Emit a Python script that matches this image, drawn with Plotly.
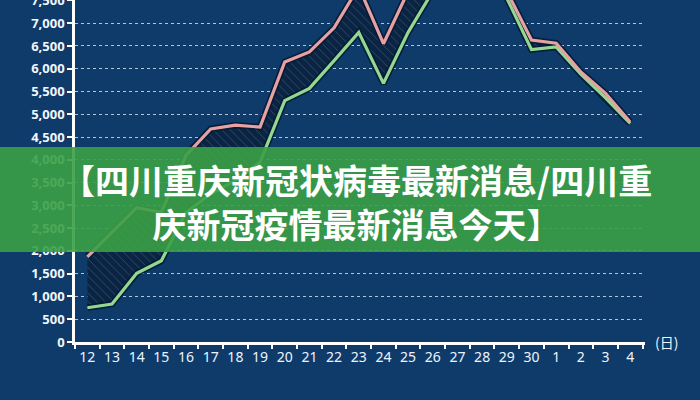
import plotly.graph_objects as go

days = ["12", "13", "14", "15", "16", "17", "18", "19", "20", "21", "22", "23",
        "24", "25", "26", "27", "28", "29", "30", "1", "2", "3", "4"]
upper = [1870, 2400, 2950, 2850, 4100, 4680, 4760, 4720, 6150, 6370, 6900, 7800,
         6550, 7700, 8100, 8300, 8200, 7700, 6630, 6560, 5930, 5460, 4830]
lower = [753, 834, 1507, 1784, 2850, 3250, 3550, 3950, 5300, 5570, 6180, 6800,
         5680, 6800, 7700, 7900, 7800, 7550, 6420, 6480, 5880, 5360, 4800]
y_ticks = [0, 500, 1000, 1500, 2000, 2500, 3000, 3500, 4000, 4500, 5000, 5500,
           6000, 6500, 7000, 7500]
title_text = "【四川重庆新冠状病毒最新消息/四川重<br>庆新冠疫情最新消息今天】"
unit_text = "(日)"

BG = "#0f3b6b"
PINK = "#e6a2a2"
GREEN = "#92d890"

fig = go.Figure()
# hatched band between the two series
fig.add_trace(go.Scatter(x=days, y=lower, mode="lines", line=dict(width=0, color=GREEN),
                         hoverinfo="skip", showlegend=False))
fig.add_trace(go.Scatter(x=days, y=upper, mode="lines", line=dict(width=0, color=PINK),
                         fill="tonexty", fillcolor="#0a2444",
                         fillpattern=dict(shape="\\", bgcolor="#0a2444",
                                          fgcolor="rgba(255,255,255,0.45)",
                                          size=6, solidity=0.12),
                         hoverinfo="skip", showlegend=False))
# dark outlines
for vals in (lower, upper):
    fig.add_trace(go.Scatter(x=days, y=vals, mode="lines",
                             line=dict(width=6.5, color="rgba(5,25,50,0.85)"),
                             hoverinfo="skip", showlegend=False))
fig.add_trace(go.Scatter(x=days, y=lower, mode="lines", line=dict(width=3.2, color=GREEN),
                         showlegend=False))
fig.add_trace(go.Scatter(x=days, y=upper, mode="lines", line=dict(width=3.2, color=PINK),
                         showlegend=False))

# banner
fig.add_shape(type="rect", xref="paper", yref="paper",
              x0=-0.16, x1=1.12, y0=(342 - 252) / 342, y1=(342 - 147) / 342,
              fillcolor="rgba(58,160,70,0.9)", line=dict(width=0), layer="above")
fig.add_annotation(text=title_text, xref="paper", yref="paper",
                   x=(356 - 75) / 570, y=(342 - 201) / 342,
                   xanchor="center", yanchor="middle", showarrow=False, align="center",
                   font=dict(family="Noto Sans CJK SC", size=34, color="white", weight="bold"))
fig.add_annotation(text=unit_text, xref="paper", yref="paper",
                   x=(667 - 75) / 570, y=0.0, xanchor="center", yanchor="middle",
                   showarrow=False,
                   font=dict(family="Noto Sans CJK JP", size=14, color="#eef4fb"))

fig.update_layout(
    width=700, height=400,
    margin=dict(l=75, r=55, t=0, b=58, autoexpand=False),
    paper_bgcolor=BG, plot_bgcolor=BG,
    showlegend=False,
    xaxis=dict(type="category", range=[-0.5, 22.6], tickson="boundaries",
               ticks="outside", ticklen=4, tickwidth=1.5, tickcolor="white",
               tickangle=0, automargin=False,
               showline=True, linecolor="white", linewidth=3, showgrid=False,
               zeroline=False,
               tickfont=dict(family="Noto Sans", size=14, color="#eef4fb")),
    yaxis=dict(range=[0, 7510], tickvals=y_ticks, tickformat=",",
               ticks="outside", ticklen=5, tickwidth=1.5, tickcolor="white",
               ticklabeloverflow="allow", automargin=False,
               showline=True, linecolor="white", linewidth=2.5,
               showgrid=True, gridcolor="rgba(255,255,255,0.7)", gridwidth=1,
               griddash="dot", zeroline=False,
               tickfont=dict(family="Noto Sans", size=13, color="#f2f6fb", weight="bold")),
)

fig.write_html("out.html",
               config={"displayModeBar": False},
               post_script="document.body.style.margin='0';"
                           "document.body.style.background='" + BG + "';")
